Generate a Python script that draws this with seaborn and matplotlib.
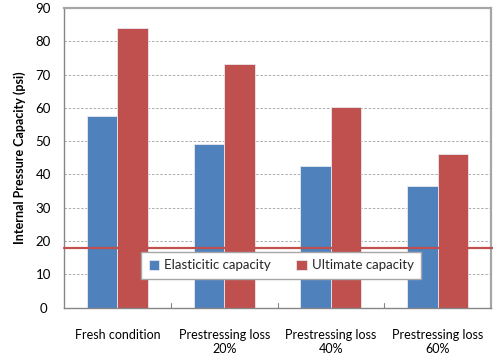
import matplotlib
matplotlib.use("Agg")
import matplotlib.pyplot as plt
import seaborn as sns
import pandas as pd

categories = ["Fresh condition", "Prestressing loss\n20%", "Prestressing loss\n40%", "Prestressing loss\n60%"]
elastic = [57.5, 49.2, 42.7, 36.5]
ultimate = [84.0, 73.2, 60.2, 46.2]
series_names = ["Elasticitic capacity", "Ultimate capacity"]
threshold = 17.8
yticks = list(range(0, 91, 10))

df = pd.DataFrame({
    "category": categories * 2,
    "value": elastic + ultimate,
    "series": [series_names[0]] * 4 + [series_names[1]] * 4,
})

sns.set_theme(style="white")
plt.rcParams["font.family"] = ["Lato", "DejaVu Sans"]

fig = plt.figure(figsize=(4.93, 3.56), dpi=100)
ax = fig.add_axes([0.1298, 0.1357, 0.8662, 0.8418])

sns.barplot(data=df, x="category", y="value", hue="series",
            palette=["#4F81BD", "#C0504D"], width=0.57, gap=0,
            edgecolor="#E8E8F0", linewidth=0.6, saturation=1, ax=ax, zorder=2)

ax.set_ylim(0, 90)
ax.set_yticks(yticks)
ax.set_xlim(-0.5, 3.5)
ax.yaxis.grid(True, linestyle=(0, (3, 2)), color="#A0A0A0", linewidth=0.6)
ax.set_axisbelow(True)

ax.axhline(threshold, xmin=0, xmax=1.006, color="#C0504D", linewidth=1.6,
           clip_on=False, zorder=3)

for s in ["left", "bottom"]:
    ax.spines[s].set_color("#868686")
    ax.spines[s].set_linewidth(1.0)
for s in ["top", "right"]:
    ax.spines[s].set_color("#A6A6A6")
    ax.spines[s].set_linewidth(1.6)

ax.set_xlabel("")
ax.set_ylabel("Internal Pressure Capacity (psi)", fontsize=9, fontweight="bold",
              color="black", labelpad=7)
ax.tick_params(axis="y", labelsize=9.5, colors="black", length=0, pad=15)
ax.tick_params(axis="x", labelsize=9, colors="black", length=0, pad=15)
for lab in ax.get_yticklabels():
    lab.set_horizontalalignment("center")

# category separator ticks
for xb in [0.5, 1.5, 2.5]:
    ax.plot([xb, xb], [0, 1.3], color="#868686", linewidth=0.8, zorder=4, clip_on=False)

leg = ax.legend(loc="center", bbox_to_anchor=(0.509, 0.141), ncol=2, fontsize=9.5,
                frameon=True, fancybox=False, handlelength=0.8, handleheight=0.8,
                columnspacing=1.9, handletextpad=0.4, borderpad=0.55)
leg.get_frame().set_edgecolor("#A6A6A6")
leg.get_frame().set_linewidth(1.0)
leg.get_frame().set_facecolor("white")
leg.get_frame().set_alpha(1)
leg.set_title(None)
leg.set_zorder(5)

fig.savefig("out.png", dpi=100)
